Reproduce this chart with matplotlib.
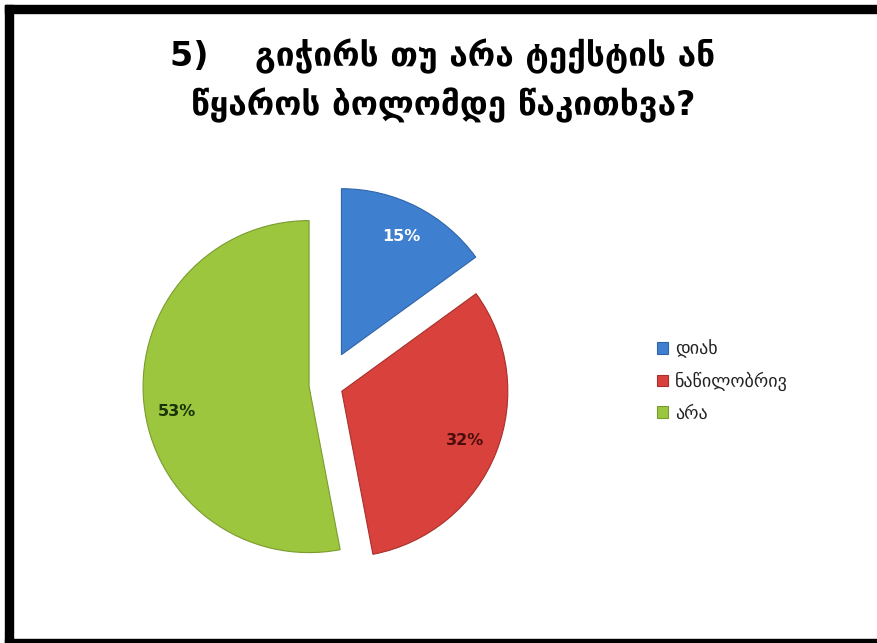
import matplotlib.pyplot as plt
from matplotlib.patches import Rectangle

plt.rcParams['font.family'] = ['DejaVu Sans']

# data
labels = ['დიახ', 'ნაწილობრივ', 'არა']
shares = [15, 32, 53]
colors = ['#3f7fd0', '#d8413c', '#9cc63e']
edges = ['#2f64a8', '#a8302c', '#7a9c2e']
pct_colors = ['white', '#4a0c0c', '#1a3308']

title = '5)    გიჭირს თუ არა ტექსტის ან\nწყაროს ბოლომდე წაკითხვა?'

W, H = 878, 643
R = 166
fig = plt.figure(figsize=(W / 100, H / 100), dpi=100)
ax = fig.add_axes([0, 0, 1, 1])

# explode is in data units (pixels here)
wedges, texts, autotexts = ax.pie(
    shares, colors=colors, explode=[34, 17, 17], startangle=90,
    counterclock=False, center=(326, H - 385), radius=R,
    autopct='%1.0f%%', pctdistance=0.8,
    wedgeprops=dict(linewidth=0.8), frame=False)
for w, ec in zip(wedges, edges):
    w.set_edgecolor(ec)
for t, c in zip(autotexts, pct_colors):
    t.set_color(c)
    t.set_fontsize(11.5)
    t.set_fontweight('bold')
# the 53% label sits a little lower in the original
x53, y53 = autotexts[2].get_position()
autotexts[2].set_position((x53, y53 - 12))

ax.set_xlim(0, W)
ax.set_ylim(0, H)
ax.set_aspect('auto')
ax.axis('off')

ax.text(443, H - 81, title, ha='center', va='center', fontsize=24,
        fontweight='bold', linespacing=1.5, color='black')

leg = ax.legend(wedges, labels, loc='center left',
                bbox_to_anchor=(641 / W, 1 - 381 / H), frameon=False,
                fontsize=13, handlelength=0.6, handleheight=0.6,
                handletextpad=0.4, labelspacing=0.75, labelcolor='#222222')

# black frame round the picture (left, top and bottom only)
fig.patches.append(Rectangle((5 / W, 0), 8 / W, 1 - 5 / H,
                             transform=fig.transFigure, color='black'))
fig.patches.append(Rectangle((5 / W, 1 - 13 / H), 1, 8 / H,
                             transform=fig.transFigure, color='black'))
fig.patches.append(Rectangle((5 / W, 0), 1, 4 / H,
                             transform=fig.transFigure, color='black'))

fig.savefig('out.png', dpi=100)
